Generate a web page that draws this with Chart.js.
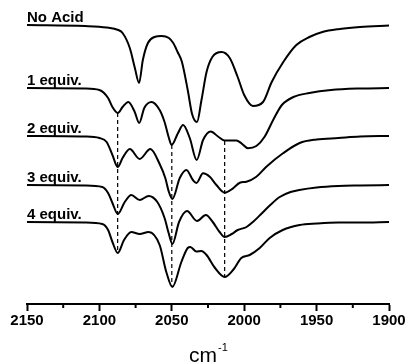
<!DOCTYPE html>
<html>
<head>
<meta charset="utf-8">
<script src="https://cdn.jsdelivr.net/npm/chart.js@4/dist/chart.umd.min.js"></script>
<style>
  html, body { margin: 0; padding: 0; background: #fff; }
  #wrap { width: 408px; height: 364px; }
</style>
</head>
<body>
<div id="wrap"><canvas id="chart"></canvas></div>
<script>
// wavenumber (cm-1), offset signal (grows downward)
const noAcid = [[2150,25],[2110,26],[2095,27.5],[2087,30],[2084,33],[2079,48],[2075.5,68],[2072.6,83],[2070,60],[2066.5,43],[2062,37],[2057,36],[2052,38],[2049,43],[2046,52],[2043,62],[2039,90],[2036,114],[2032.6,122],[2029.5,100],[2026,72],[2022,57],[2015.6,52],[2010,58],[2004.5,77],[2000,95],[1994,106],[1987,102],[1981,82],[1973,62],[1964,45],[1955,37],[1946,32],[1934,29],[1920,27],[1900,25.5]];
const equiv1 = [[2150,88],[2110,88.5],[2100,90],[2094,98],[2091,107],[2087.3,113],[2084,107],[2080,102],[2075.6,112],[2072.5,123],[2069,108],[2064,102],[2058.4,110],[2055,122],[2052,138],[2050.2,145],[2045.7,133],[2042.2,125],[2037.6,138],[2032.8,160],[2028.4,140],[2023.1,131.5],[2018.1,136.5],[2013.5,140.5],[2005.4,140.5],[2001.9,143.3],[1997.4,148.3],[1991.6,146],[1985.9,136.7],[1980,120],[1974,105],[1966,97],[1955,93],[1940,90],[1920,88.5],[1900,88]];
const equiv2 = [[2150,136],[2110,136.5],[2100,138],[2095,142],[2091,155],[2087.4,167],[2084,158],[2079,149],[2072.2,159],[2064.8,149],[2058.4,164],[2054.5,178],[2052,192],[2049.6,199],[2044.5,178],[2039.9,170],[2035.4,180],[2033,183],[2028.4,173.3],[2023.8,176.7],[2019.2,185],[2013.5,192.7],[2007.7,188.3],[2003,182.7],[1998.5,181.7],[1991.6,176.7],[1984.7,166.7],[1973.2,153.3],[1961.7,143],[1950,139.5],[1935,138],[1920,136.5],[1900,136]];
const equiv3 = [[2150,185],[2110,185.5],[2098,187],[2094,193],[2091,203],[2087.3,214],[2082.5,202],[2078,195],[2072.2,200],[2066,196],[2060,202],[2055,218],[2052,234],[2049.6,244],[2045,222],[2039.5,211],[2032.6,221],[2026.5,215],[2021.7,222],[2017,232],[2013.5,237],[2008.6,234],[2004.5,230],[1998.4,227],[1994,222],[1989,215],[1982,205],[1975.5,197],[1968,192],[1962,190],[1950,187.5],[1935,186],[1920,185.5],[1900,185]];
const equiv4 = [[2150,222],[2110,222.5],[2098,224],[2094,230],[2091,242],[2087.3,253],[2083,240],[2078,232],[2072.2,234],[2066,232],[2058.4,245],[2053.8,272],[2049.6,287],[2043.4,262],[2039,248],[2037.2,247],[2033,251.5],[2029.6,251],[2026,255],[2020.4,267.5],[2013.5,277],[2007.7,270],[2002,258],[1996.2,255],[1989.3,248],[1982.4,238],[1973.4,230],[1961.7,225],[1950,223.5],[1935,222.5],[1920,222.5],[1900,222]];
const traceNames = ['No Acid', '1 equiv.', '2 equiv.', '3 equiv.', '4 equiv.'];

// dashed guide lines: position, top, bottom
const guideWn = [2087.4, 2050, 2013.5];
const guideTop = [113, 145, 141];
const guideBottom = [253, 287, 277];

const xTicks = [2150, 2100, 2050, 2000, 1950, 1900];
const FONT = "'Liberation Sans', Arial, Helvetica, sans-serif";

const toXY = pts => pts.map(p => ({x: p[0], y: p[1]}));
const traces = [noAcid, equiv1, equiv2, equiv3, equiv4];

const datasets = traces.map((pts, i) => ({
  label: traceNames[i],
  data: toXY(pts),
  borderColor: '#000',
  borderWidth: 2,
  pointRadius: 0,
  cubicInterpolationMode: 'monotone',
  fill: false
}));
guideWn.forEach((wn, i) => {
  datasets.push({
    label: 'guide' + i,
    data: [{x: wn, y: guideTop[i]}, {x: wn, y: guideBottom[i]}],
    borderColor: '#000',
    borderWidth: 1.2,
    borderDash: [4, 3],
    pointRadius: 0
  });
});

const annotate = {
  id: 'annotate',
  afterDraw(chart) {
    const {ctx, chartArea, scales: {x, y}} = chart;
    ctx.save();
    ctx.fillStyle = '#000';
    ctx.strokeStyle = '#000';
    // trace names
    ctx.font = 'bold 15px ' + FONT;
    ctx.textAlign = 'left';
    ctx.textBaseline = 'alphabetic';
    traces.forEach((pts, i) => {
      ctx.fillText(traceNames[i], chartArea.left, y.getPixelForValue(pts[0][1]) - 3);
    });
    // minor ticks
    ctx.lineWidth = 2;
    for (let v = 2125; v > 1900; v -= 50) {
      const px = x.getPixelForValue(v);
      ctx.beginPath();
      ctx.moveTo(px, chartArea.bottom);
      ctx.lineTo(px, chartArea.bottom + 4);
      ctx.stroke();
    }
    // axis title cm-1
    const cx = (chartArea.left + chartArea.right) / 2;
    ctx.font = '21px ' + FONT;
    const w1 = ctx.measureText('cm').width;
    ctx.font = '11px ' + FONT;
    const w2 = ctx.measureText('-1').width;
    const start = cx - (w1 + w2) / 2;
    ctx.font = '21px ' + FONT;
    ctx.fillText('cm', start, 362);
    ctx.font = '11px ' + FONT;
    ctx.fillText('-1', start + w1 + 1, 351);
    ctx.restore();
  }
};

new Chart(document.getElementById('chart'), {
  type: 'line',
  data: {datasets: datasets},
  options: {
    responsive: true,
    maintainAspectRatio: false,
    animation: false,
    layout: {padding: {left: 27, right: 19, top: 0, bottom: 34}},
    plugins: {
      legend: {display: false},
      tooltip: {enabled: false}
    },
    scales: {
      x: {
        type: 'linear',
        reverse: true,
        min: 1900,
        max: 2150,
        afterBuildTicks: scale => { scale.ticks = xTicks.map(v => ({value: v})); },
        afterFit: scale => { scale.height = 26; },
        ticks: {
          color: '#000',
          padding: 1,
          maxRotation: 0,
          font: {family: FONT, size: 15, weight: 'bold'},
          callback: v => String(v)
        },
        grid: {drawOnChartArea: false, tickLength: 7, tickWidth: 2, tickColor: '#000'},
        border: {display: true, color: '#000', width: 2}
      },
      y: {
        display: false,
        reverse: true,
        min: 0,
        max: 304
      }
    }
  },
  plugins: [annotate]
});
</script>
</body>
</html>
